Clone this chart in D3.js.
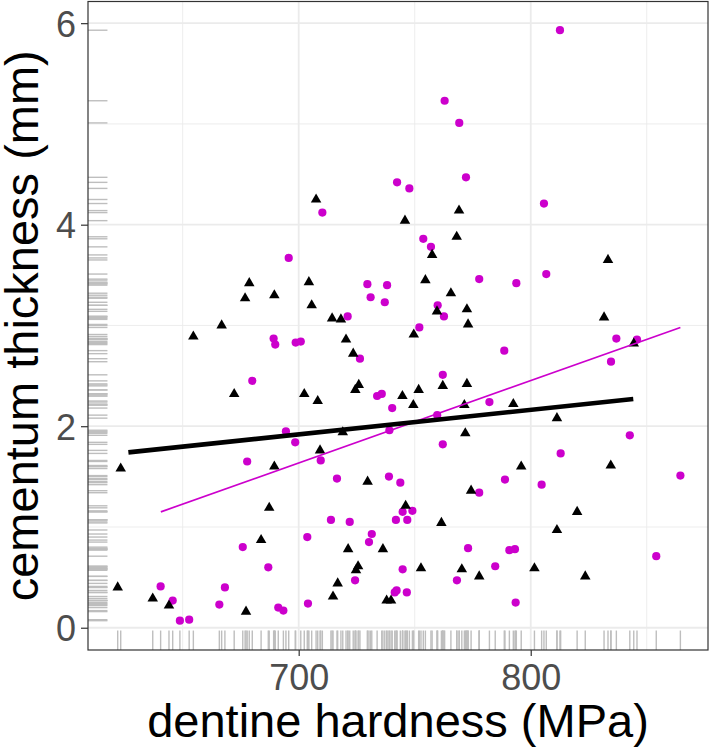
<!DOCTYPE html>
<html><head><meta charset="utf-8">
<script src="https://cdn.jsdelivr.net/npm/d3@7"></script>
<style>body{margin:0;background:#fff}</style>
</head><body><svg id="chart" width="710" height="749"></svg>
<script>
// ---- data ----
const triX = [654.6, 666.8, 672.2, 623.3, 622.0, 637.1, 644.1, 707.5, 745.8, 769.1,
  768.1, 678.7, 676.9, 689.5, 704.4, 705.6, 714.4, 718.2, 757.5, 754.6,
  765.6, 759.6, 772.5, 773.0, 749.6, 720.4, 723.5, 702.4, 708.2, 725.9,
  724.4, 744.7, 751.7, 749.4, 762.1, 772.5, 771.4, 719.0, 771.8, 689.5,
  709.2, 729.7, 687.3, 746.1, 761.5, 774.3, 683.8, 721.3, 736.3, 725.6,
  724.7, 716.8, 752.7, 770.3, 714.8, 737.9, 739.8, 677.3, 833.3, 831.6,
  844.4, 792.5, 811.3, 795.9, 834.5, 820.0, 811.3, 777.8, 801.6, 823.5];
const triY = [2.89, 3.00, 2.32, 1.58, 0.40, 0.29, 0.22, 4.25, 4.04, 4.14,
  3.88, 3.42, 3.27, 3.30, 3.43, 3.20, 3.07, 3.06, 3.70, 3.45,
  3.32, 3.14, 3.16, 3.01, 2.91, 2.86, 2.72, 2.32, 2.25, 2.41,
  2.36, 2.30, 2.36, 2.21, 2.40, 2.42, 2.21, 1.94, 1.93, 1.60,
  1.76, 1.45, 1.19, 1.21, 1.04, 1.36, 0.87, 0.78, 0.78, 0.61,
  0.57, 0.44, 0.59, 0.58, 0.31, 0.27, 0.27, 0.16, 3.65, 3.08,
  2.82, 2.22, 2.08, 1.60, 1.61, 1.15, 0.97, 0.51, 0.59, 0.51];
const cirX = [640.5, 645.7, 648.8, 652.8, 665.8, 668.2, 762.9, 769.2, 772.1, 710.2,
  742.4, 747.7, 753.7, 757.0, 695.7, 729.6, 738.1, 731.0, 737.1, 721.1,
  759.9, 762.6, 752.0, 689.2, 689.9, 698.7, 700.9, 726.4, 680.0, 733.8,
  735.8, 740.3, 762.1, 759.7, 694.5, 698.5, 739.1, 762.1, 677.8, 709.5,
  716.5, 738.9, 743.8, 744.8, 749.0, 741.9, 746.8, 713.9, 722.0, 675.9,
  703.7, 731.5, 730.3, 686.9, 724.3, 744.8, 768.2, 773.0, 742.2, 741.4,
  746.6, 691.2, 693.4, 704.0, 812.6, 805.7, 777.8, 793.8, 806.7, 836.9,
  845.8, 834.6, 788.6, 782.2, 842.7, 812.9, 788.9, 864.5, 804.7, 777.8,
  790.8, 793.2, 784.7, 854.1, 793.5];
const cirY = [0.41, 0.27, 0.07, 0.08, 0.23, 0.40, 5.23, 5.01, 4.47, 4.12,
  4.42, 4.36, 3.86, 3.78, 3.67, 3.41, 3.40, 3.28, 3.23, 3.09,
  3.20, 3.09, 2.98, 2.87, 2.81, 2.83, 2.84, 2.67, 2.45, 2.30,
  2.32, 2.18, 2.51, 2.11, 1.95, 1.84, 1.96, 1.82, 1.65, 1.66,
  1.48, 1.50, 1.44, 1.15, 1.16, 1.07, 1.07, 1.07, 1.05, 0.80,
  0.90, 0.93, 0.85, 0.60, 0.47, 0.58, 0.47, 0.79, 0.37, 0.35,
  0.35, 0.20, 0.17, 0.24, 5.93, 4.21, 3.46, 3.42, 3.51, 2.87,
  2.86, 2.64, 2.75, 2.24, 1.91, 1.73, 1.47, 1.51, 1.42, 1.34,
  0.77, 0.78, 0.61, 0.71, 0.25];
const fitBlackX = [626.6, 844.2], fitBlackY = [1.74, 2.27];
const fitMagX = [640.6, 864.5], fitMagY = [1.15, 2.98];
const xTicks = [700, 800], xMinor = [650, 750, 850];
const yTicks = [0, 2, 4, 6], yMinor = [1, 3, 5];
const xTitle = "dentine hardness (MPa)";
const yTitle = "cementum thickness (mm)";

// ---- layout ----
const L = 88, R = 708, T = 1.5, B = 650;
const FONT = "'Liberation Sans', Arial, Helvetica, sans-serif";
const MAG = "#CC00CC";
const svg = d3.select("#chart");
const x = d3.scaleLinear().domain([609.2, 876.4]).range([L, R]);
const y = d3.scaleLinear().domain([-0.221, 6.215]).range([B, T]);

const tri = triX.map((v, i) => ({x: v, y: triY[i]}));
const cir = cirX.map((v, i) => ({x: v, y: cirY[i]}));

// grid
const g = svg.append("g");
g.selectAll(".xm").data(xMinor).enter().append("line")
  .attr("x1", d => x(d)).attr("x2", d => x(d)).attr("y1", T).attr("y2", B)
  .attr("stroke", "#EBEBEB").attr("stroke-width", 0.9);
g.selectAll(".ym").data(yMinor).enter().append("line")
  .attr("y1", d => y(d)).attr("y2", d => y(d)).attr("x1", L).attr("x2", R)
  .attr("stroke", "#EBEBEB").attr("stroke-width", 0.9);
g.selectAll(".xM").data(xTicks).enter().append("line")
  .attr("x1", d => x(d)).attr("x2", d => x(d)).attr("y1", T).attr("y2", B)
  .attr("stroke", "#EBEBEB").attr("stroke-width", 1.8);
g.selectAll(".yM").data(yTicks).enter().append("line")
  .attr("y1", d => y(d)).attr("y2", d => y(d)).attr("x1", L).attr("x2", R)
  .attr("stroke", "#EBEBEB").attr("stroke-width", 1.8);

// rugs
const allX = triX.concat(cirX), allY = triY.concat(cirY);
const rugLen = 0.03 * (B - T);
g.selectAll(".rx").data(allX).enter().append("line")
  .attr("x1", d => x(d)).attr("x2", d => x(d)).attr("y1", B).attr("y2", B - rugLen)
  .attr("stroke", "#BEBEBE").attr("stroke-width", 1.4);
g.selectAll(".ry").data(allY).enter().append("line")
  .attr("y1", d => y(d)).attr("y2", d => y(d)).attr("x1", L).attr("x2", L + rugLen)
  .attr("stroke", "#BEBEBE").attr("stroke-width", 1.4);

// points
g.selectAll(".c").data(cir).enter().append("circle")
  .attr("cx", d => x(d.x)).attr("cy", d => y(d.y)).attr("r", 4.1)
  .attr("fill", MAG);
const triSym = d3.symbol().type(d3.symbolTriangle).size(48);
g.selectAll(".t").data(tri).enter().append("path")
  .attr("d", triSym).attr("transform", d => `translate(${x(d.x)},${y(d.y)})`)
  .attr("fill", "#000");

// fit lines
const line = d3.line().x(d => x(d[0])).y(d => y(d[1]));
g.append("path").datum(fitMagX.map((v, i) => [v, fitMagY[i]]))
  .attr("d", line).attr("stroke", MAG).attr("stroke-width", 1.7).attr("fill", "none");
g.append("path").datum(fitBlackX.map((v, i) => [v, fitBlackY[i]]))
  .attr("d", line).attr("stroke", "#000").attr("stroke-width", 4.6).attr("fill", "none");

// panel border
svg.append("rect").attr("x", L).attr("y", T).attr("width", R - L).attr("height", B - T)
  .attr("fill", "none").attr("stroke", "#333333").attr("stroke-width", 1.2);

// axes
const xa = svg.append("g").attr("transform", `translate(0,${B})`)
  .call(d3.axisBottom(x).tickValues(xTicks).tickSize(6).tickPadding(8.4).tickFormat(d3.format("d")));
const ya = svg.append("g").attr("transform", `translate(${L},0)`)
  .call(d3.axisLeft(y).tickValues(yTicks).tickSize(7).tickPadding(5).tickFormat(d3.format("d")));
[xa, ya].forEach(a => {
  a.select(".domain").remove();
  a.selectAll(".tick line").attr("stroke", "#333333").attr("stroke-width", 1.2);
  a.selectAll(".tick text").attr("fill", "#4D4D4D").style("font-family", FONT).style("font-size", "36px");
});
ya.selectAll(".tick text").attr("dy", "0.36em");

// titles
svg.append("text").attr("x", (L + R) / 2).attr("y", 737).attr("text-anchor", "middle")
  .style("font-family", FONT).style("font-size", "47px").attr("fill", "#000").text(xTitle);
svg.append("text").attr("transform", `translate(37.5,${(T + B) / 2}) rotate(-90)`)
  .attr("text-anchor", "middle")
  .style("font-family", FONT).style("font-size", "47px").attr("fill", "#000").text(yTitle);
</script></body></html>
